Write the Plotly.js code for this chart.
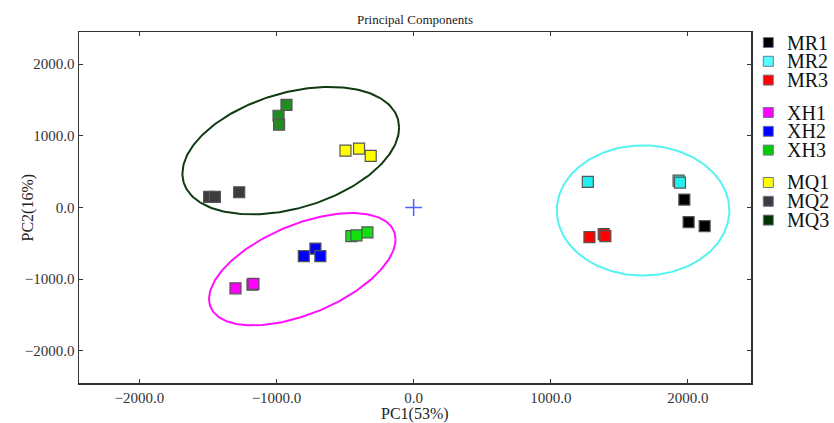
<!DOCTYPE html>
<html>
<head>
<meta charset="utf-8">
<script src="https://cdn.plot.ly/plotly-3.0.1.min.js"></script>
<style>html,body{margin:0;padding:0;background:#fff;}#chart{width:834px;height:423px;}</style>
</head>
<body>
<div id="chart"></div>
<script>
// ---- data ----
const seriesNames = ['MR1', 'MR2', 'MR3', 'XH1', 'XH2', 'XH3', 'MQ1', 'MQ2', 'MQ3'];
const mr1X = [1974, 2005, 2122];   const mr1Y = [111, -205, -260];
const mr2X = [1270, 1932, 1942];   const mr2Y = [358, 376, 348];
const mr3X = [1282, 1386, 1398];   const mr3Y = [-414, -372, -400];
const xh1X = [-1299, -1175, -1168]; const xh1Y = [-1128, -1077, -1066];
const xh2X = [-801, -716, -680];   const xh2Y = [-678, -575, -678];
const xh3X = [-454, -417, -337];   const xh3Y = [-400, -390, -348];
const mq1X = [-497, -398, -313];   const mq1Y = [794, 822, 720];
const mq2X = [-1491, -1449, -1272]; const mq2Y = [149, 149, 213];
const mq3X = [-927, -985, -981];   const mq3Y = [1434, 1281, 1156];
const originX = [0]; const originY = [0];

// confidence ellipses: centre, half extents, correlation
const ellipseCx  = [-896, -812, 1673];
const ellipseCy  = [794, -861, -42];
const ellipseRx  = [790, 680, 629];
const ellipseRy  = [890, 784, 909];
const ellipseRho = [0.36, 0.53, 0.0];

const xTicks = [-2000, -1000, 0, 1000, 2000];
const yTicks = [-2000, -1000, 0, 1000, 2000];
const xTitle = 'PC1(53%)';
const yTitle = 'PC2(16%)';

// ---- styles ----
const markerColors = ['#000000', '#22f0f0', '#ff0000', '#ff00ff', '#0000ff', '#11e011', '#ffff00', '#3c3c3c', '#228b22'];
const legendColors = ['#000000', '#55ffff', '#ff0000', '#ff00ff', '#0000ff', '#00cc00', '#ffff00', '#3c3c3c', '#003300'];
const ellipseColors = ['#0f3a12', '#ff11ff', '#55f2f2'];

const xs = [mr1X, mr2X, mr3X, xh1X, xh2X, xh3X, mq1X, mq2X, mq3X];
const ys = [mr1Y, mr2Y, mr3Y, xh1Y, xh2Y, xh3Y, mq1Y, mq2Y, mq3Y];

const traces = [];
const serif = 'Liberation Serif, Times New Roman, serif';

// ellipses
for (let k = 0; k < ellipseCx.length; k++) {
  const ex = [], ey = [];
  const s = Math.sqrt(1 - ellipseRho[k] * ellipseRho[k]);
  for (let i = 0; i <= 240; i++) {
    const t = 2 * Math.PI * i / 240;
    ex.push(ellipseCx[k] + ellipseRx[k] * Math.cos(t));
    ey.push(ellipseCy[k] + ellipseRy[k] * (ellipseRho[k] * Math.cos(t) + s * Math.sin(t)));
  }
  traces.push({x: ex, y: ey, mode: 'lines', line: {color: ellipseColors[k], width: 2}, hoverinfo: 'skip', showlegend: false});
}

// points
for (let k = 0; k < seriesNames.length; k++) {
  traces.push({
    x: xs[k], y: ys[k], name: seriesNames[k], mode: 'markers', showlegend: false,
    marker: {symbol: 'square', size: 11, color: markerColors[k], line: {color: '#555555', width: 1.2}}
  });
}

// origin cross
traces.push({x: originX, y: originY, mode: 'markers', showlegend: false,
  marker: {symbol: 'cross-thin-open', size: 12, color: '#5060ff', line: {color: '#5060ff', width: 1.5}}});

// custom legend (layout shapes + annotations)
const shapes = [], annotations = [];
const L = 79, R = 751, T = 32, B = 383;
const pw = R - L, ph = B - T;
for (let k = 0; k < seriesNames.length; k++) {
  const g = Math.floor(k / 3), i = k % 3;
  const py = 42.5 + g * 70 + i * 18.8;
  const yp = (B - py) / ph;
  shapes.push({type: 'rect', xref: 'paper', yref: 'paper', xsizemode: 'pixel', ysizemode: 'pixel',
    xanchor: (768.3 - L) / pw, yanchor: yp, x0: -5, x1: 5, y0: -5, y1: 5,
    fillcolor: legendColors[k], line: {color: '#6a7898', width: 1}});
  annotations.push({xref: 'paper', yref: 'paper', x: (786 - L) / pw, y: yp, xanchor: 'left', yanchor: 'middle',
    borderpad: 0, text: seriesNames[k], showarrow: false, font: {family: serif, size: 20, color: '#111'}});
}

// axis titles placed as annotations for precise positioning
annotations.push({xref: 'paper', yref: 'paper', x: 0.5, y: (B - 414) / ph, xanchor: 'center', yanchor: 'middle',
  borderpad: 0, text: xTitle, showarrow: false, font: {family: serif, size: 16, color: '#222'}});
annotations.push({xref: 'paper', yref: 'paper', x: (27 - L) / pw, y: 0.5, xanchor: 'center', yanchor: 'middle',
  textangle: -90, text: yTitle, showarrow: false, font: {family: serif, size: 16, color: '#222'}});

const axisCommon = {
  showgrid: false, zeroline: false, showline: true, linecolor: '#333', linewidth: 1.5,
  mirror: 'allticks', ticks: 'inside', ticklen: 4, tickcolor: '#333', tickwidth: 1,
  tickformat: '.1f', tickfont: {family: serif, size: 15, color: '#333'}
};

const layout = {
  width: 834, height: 423,
  margin: {l: L, r: 834 - R, t: T, b: 423 - B, pad: 0},
  paper_bgcolor: '#fff', plot_bgcolor: '#fff',
  title: {text: 'Principal Components', x: 0.5, xref: 'paper', xanchor: 'center', y: 1 - 19 / 423, yref: 'container', yanchor: 'middle',
    font: {family: serif, size: 13, color: '#222'}},
  xaxis: Object.assign({}, axisCommon, {range: [-2440, 2460], tickvals: xTicks}),
  yaxis: Object.assign({}, axisCommon, {range: [-2450, 2450], tickvals: yTicks}),
  shapes: shapes, annotations: annotations, showlegend: false
};

Plotly.newPlot('chart', traces, layout, {displayModeBar: false, staticPlot: true});
</script>
</body>
</html>
